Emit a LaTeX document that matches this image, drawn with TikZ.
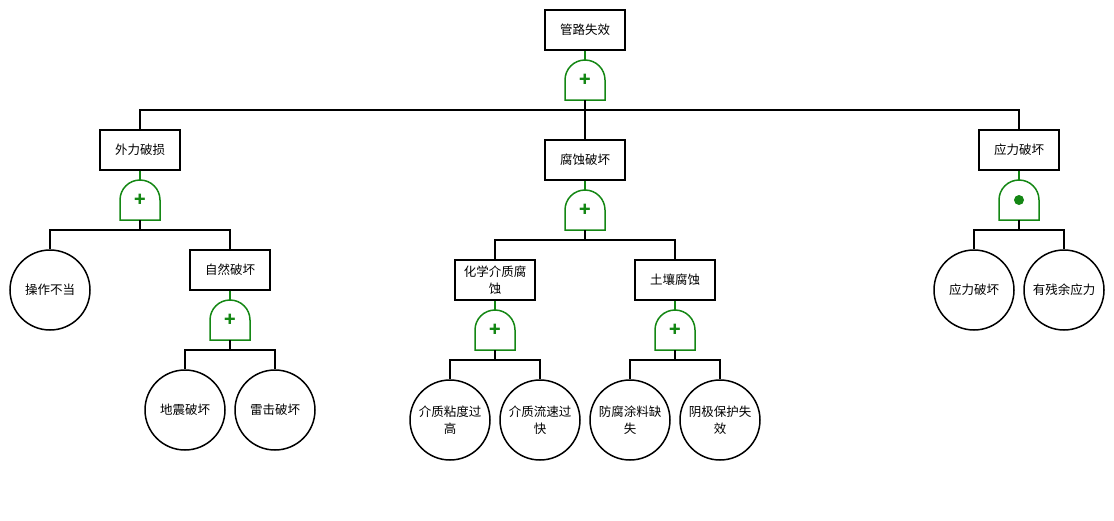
\documentclass[tikz,border=0pt]{standalone}
\usepackage{fontspec}
\setmainfont{Noto Sans CJK SC}
\usetikzlibrary{calc,positioning}
\definecolor{gategreen}{RGB}{20,135,20}

% gate: name, position, symbol
\newcommand{\ftgate}[3]{%
  \node[gate] (#1) at (#2) {#3};
  \draw[gategreen,line width=1.5pt] (#1.south west) -- (#1.west)
    arc[start angle=180,end angle=0,radius=20pt] -- (#1.south east) -- cycle;
}

\begin{document}
\begin{tikzpicture}[x=1pt,y=-1pt,line width=1.5pt,
    every node/.style={font=\fontsize{12.5}{17}\selectfont},
    event/.style={draw,minimum width=80pt,minimum height=40pt,inner sep=1pt,align=center},
    basic/.style={draw,circle,minimum size=80pt,inner sep=0pt,align=center},
    gate/.style={minimum width=40pt,minimum height=40pt,inner sep=0pt,outer sep=0pt,text=gategreen,font=\bfseries\fontsize{19}{19}\selectfont},
    link/.style={gategreen}]
  \useasboundingbox (0,0) rectangle (1114,520);

  % top event
  \node[event] (top) at (585,30) {管路失效};
  \ftgate{g0}{585,80}{+}

  \node[event] (ext) at (140,150) {外力破损};
  \node[event] (cor) at (585,160) {腐蚀破坏};
  \node[event] (str) at (1019,150) {应力破坏};

  % external damage
  \ftgate{g1}{140,200}{+}
  \node[basic] (op) at (50,290) {操作不当};
  \node[event] (nat) at (230,270) {自然破坏};
  \ftgate{g2}{230,320}{+}
  \node[basic] (quake) at (185,410) {地震破坏};
  \node[basic] (light) at (275,410) {雷击破坏};

  % corrosion
  \ftgate{g3}{585,210}{+}
  \node[event] (chem) at (495,280) {化学介质腐\\蚀};
  \node[event] (soil) at (675,280) {土壤腐蚀};
  \ftgate{g4}{495,330}{+}
  \ftgate{g5}{675,330}{+}
  \node[basic] (visc) at (450,420) {介质粘度过\\高};
  \node[basic] (flow) at (540,420) {介质流速过\\快};
  \node[basic] (coat) at (630,420) {防腐涂料缺\\失};
  \node[basic] (cath) at (720,420) {阴极保护失\\效};

  % stress
  \ftgate{g6}{1019,200}{}
  \fill[gategreen] (g6) circle (5pt);
  \node[basic] (sdam) at (974,290) {应力破坏};
  \node[basic] (resid) at (1064,290) {有残余应力};

  % box to gate
  \foreach \b/\g in {top/g0,ext/g1,nat/g2,cor/g3,chem/g4,soil/g5,str/g6}
    \draw[link] (\b.south) -- (\g.north);

  % gate to children
  \foreach \g/\c in {g0/ext,g0/cor,g0/str,g1/op,g1/nat,g2/quake,g2/light,
      g3/chem,g3/soil,g4/visc,g4/flow,g5/coat,g5/cath,g6/sdam,g6/resid}
    \draw (\g.south) -- ++(0,10) -| (\c.north);
\end{tikzpicture}
\end{document}
